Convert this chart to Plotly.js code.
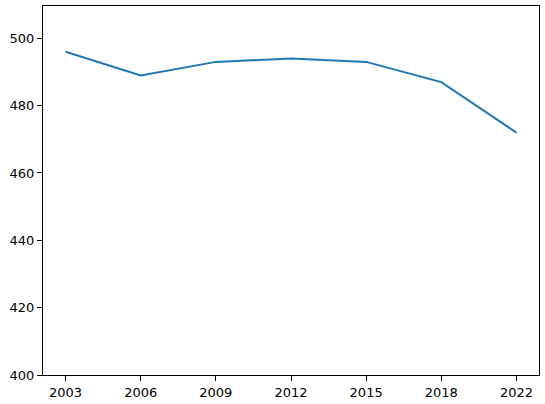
<!DOCTYPE html>
<html>
<head>
<meta charset="utf-8">
<script src="https://cdn.plot.ly/plotly-3.0.1.min.js"></script>
<style>html,body{margin:0;padding:0;background:#fff;}#chart{width:545px;height:404px;}</style>
</head>
<body>
<div id="chart"></div>
<script>
const years = ["2003", "2006", "2009", "2012", "2015", "2018", "2022"];
const scores = [496, 489, 493, 494, 493, 487, 472];
const yTicks = [400, 420, 440, 460, 480, 500];

const trace = {
  x: years,
  y: scores,
  type: "scatter",
  mode: "lines",
  line: {color: "#1f77b4", width: 2},
  hoverinfo: "skip"
};

const axisCommon = {
  showgrid: false,
  zeroline: false,
  showline: true,
  mirror: true,
  linecolor: "#000",
  linewidth: 1,
  ticks: "outside",
  ticklen: 5,
  tickwidth: 1,
  tickcolor: "#000",
  tickfont: {family: "DejaVu Sans", size: 13, color: "#000"}
};

const layout = {
  width: 545,
  height: 404,
  margin: {l: 43, r: 6, t: 6, b: 29},
  paper_bgcolor: "#fff",
  plot_bgcolor: "#fff",
  showlegend: false,
  xaxis: Object.assign({}, axisCommon, {
    type: "category",
    range: [-0.3, 6.3]
  }),
  yaxis: Object.assign({}, axisCommon, {
    range: [400, 509.6],
    tickvals: yTicks,
    ticktext: yTicks.map(String)
  })
};

Plotly.newPlot("chart", [trace], layout, {staticPlot: true, displayModeBar: false});
</script>
</body>
</html>
